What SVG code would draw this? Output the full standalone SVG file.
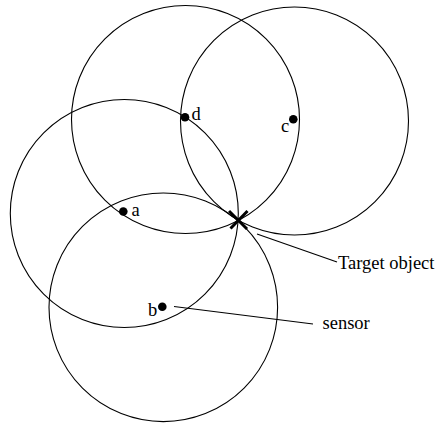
<svg xmlns="http://www.w3.org/2000/svg" width="438" height="423" viewBox="0 0 438 423">
<style>
.range{fill:none;stroke:#000;stroke-width:1.1}
.dot{fill:#000}
.lbl{font-family:"Liberation Serif","Times New Roman",serif;font-size:18.5px;fill:#000}
.lead{stroke:#000;stroke-width:1.1;fill:none}
.x{stroke:#000;stroke-width:3;stroke-linecap:butt}
</style>
<rect width="438" height="423" fill="#fff"/>
<g id="sensor-d">
<circle class="range" cx="185.5" cy="119.5" r="114"/>
<circle class="dot" cx="185" cy="117.3" r="4.3"/>
<text class="lbl" x="191.5" y="120">d</text>
</g>
<g id="sensor-c">
<circle class="range" cx="294.5" cy="121" r="114"/>
<circle class="dot" cx="293.3" cy="119.3" r="4.3"/>
<text class="lbl" x="281" y="132">c</text>
</g>
<g id="sensor-a">
<circle class="range" cx="124.3" cy="213.5" r="114"/>
<circle class="dot" cx="123.3" cy="211.5" r="4.3"/>
<text class="lbl" x="131.5" y="216">a</text>
</g>
<g id="sensor-b">
<circle class="range" cx="163.3" cy="307.3" r="114.3"/>
<circle class="dot" cx="162.3" cy="306.7" r="4.3"/>
<text class="lbl" x="148" y="316">b</text>
</g>
<g id="target">
<line class="x" x1="229" y1="211" x2="247" y2="229"/>
<line class="x" x1="230.5" y1="228.5" x2="247.5" y2="211"/>
</g>
<g id="connectors">
<line class="lead" x1="257" y1="234" x2="337" y2="262"/>
<line class="lead" x1="174" y1="306.5" x2="313" y2="324"/>
</g>
<g id="label-target">
<text class="lbl" x="338" y="268.5">Target object</text>
</g>
<g id="label-sensor">
<text class="lbl" x="322.5" y="328.5">sensor</text>
</g>
</svg>
